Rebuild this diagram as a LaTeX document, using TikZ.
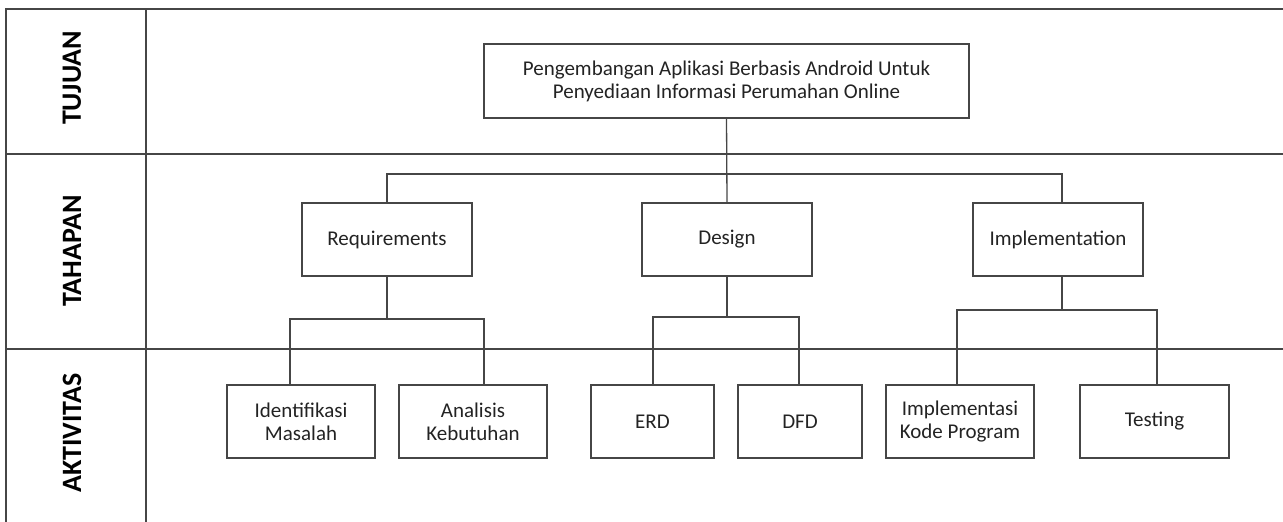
\documentclass[tikz,border=0pt]{standalone}
\usepackage{fontspec}
\setmainfont{Carlito}
\usetikzlibrary{positioning}

\definecolor{linegray}{RGB}{70,70,70}
\definecolor{textgray}{RGB}{35,35,35}

\begin{document}
\begin{tikzpicture}[x=0.5pt, y=-0.5pt, line width=0.65pt, color=linegray,
    box/.style={rectangle, draw=linegray, align=center, inner sep=0pt, text=textgray, font=\fontsize{10.5}{11.5}\selectfont},
    lvl/.style={rotate=90, text=black, font=\bfseries\fontsize{14}{16}\selectfont}]
    \useasboundingbox (0,0) rectangle (1283,522);

    % Table
    \draw (6,522) -- (6,9) -- (1283,9);
    \draw (146,9) -- (146,522);
    \draw (6,154) -- (1283,154);
    \draw (6,349) -- (1283,349);

    % Row labels
    \node [lvl] (tujuan) at (72,78) {TUJUAN};
    \node [lvl] (tahapan) at (72,251) {TAHAPAN};
    \node [lvl] (aktivitas) at (72,433) {AKTIVITAS};

    % Nodes
    \node [box, minimum width=242.5pt, minimum height=37pt] (goal) at (726.5,81) {Pengembangan Aplikasi Berbasis Android Untuk\\Penyediaan Informasi Perumahan Online};

    \node [box, minimum width=85pt, minimum height=36.5pt] (req) at (387,239.5) {Requirements};
    \node [box, minimum width=85pt, minimum height=36.5pt, right of=req, node distance=170pt] (design) {Design};
    \node [box, minimum width=85pt, minimum height=36.5pt, right of=design, node distance=165.5pt] (impl) {Implementation};

    \node [box, minimum width=74pt, minimum height=36.5pt] (ident) at (301,421.5) {Identifikasi\\Masalah};
    \node [box, minimum width=74pt, minimum height=36.5pt, right of=ident, node distance=86pt] (analisis) {Analisis\\Kebutuhan};
    \node [box, minimum width=61.5pt, minimum height=36.5pt] (erd) at (652.5,421.5) {ERD};
    \node [box, minimum width=62pt, minimum height=36.5pt, right of=erd, node distance=73.75pt] (dfd) {DFD};
    \node [box, minimum width=74pt, minimum height=36.5pt] (kode) at (960,421.5) {Implementasi\\Kode Program};
    \node [box, minimum width=74.5pt, minimum height=36.5pt, right of=kode, node distance=97.25pt] (testing) {Testing};

    % Bus points
    \coordinate (busB) at (1062,174);
    \coordinate (reqL) at (290,319);
    \coordinate (reqR) at (484,319);
    \coordinate (desL) at (653,317);
    \coordinate (desR) at (799,317);
    \coordinate (impL) at (957,310);
    \coordinate (impR) at (1157,310);

    % Lines
    \draw (goal.south) -- (design.north);
    \draw (req.north) |- (busB) -- (impl.north -| busB);
    \draw (req.south) -- (req.south |- reqL);
    \draw (ident.north -| reqL) |- (reqR) -- (analisis.north -| reqR);
    \draw (design.south) -- (design.south |- desL);
    \draw (erd.north -| desL) |- (desR) -- (dfd.north -| desR);
    \draw (impl.south -| busB) -- (impL -| busB);
    \draw (kode.north -| impL) |- (impR) -- (testing.north -| impR);

  \end{tikzpicture}
\end{document}
